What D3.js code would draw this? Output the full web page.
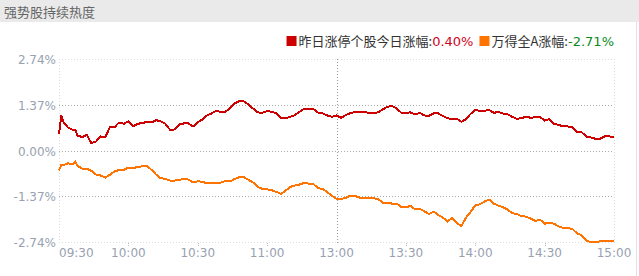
<!DOCTYPE html>
<html>
<head>
<meta charset="utf-8">
<style>
  body { margin: 0; background: #fff; }
  .ylab, .xlab { font: 12px "DejaVu Sans"; fill: #97a1b0; }
  .title { font: 13px "Noto Sans CJK SC"; fill: #666; }
  .lgname { font: 13px "Noto Sans CJK SC"; fill: #333; }
  .lgval { font: 13px "DejaVu Sans"; }
</style>
<script src="https://d3js.org/d3.v7.min.js"></script>
</head>
<body>
<svg width="639" height="276"></svg>
<script>
// time points (11:30 and 13:00 share one position)
var times = ["09:30","09:31","09:32","09:34","09:36","09:37","09:38",
  "09:40","09:42","09:44","09:46","09:48","09:50","09:52","09:54","09:56","09:58",
  "10:00","10:02","10:04","10:06","10:08","10:10","10:12","10:14","10:16","10:18",
  "10:20","10:22","10:24","10:26","10:28","10:30","10:32","10:34","10:36","10:38",
  "10:40","10:42","10:44","10:46","10:48","10:50","10:52","10:54","10:56","10:58",
  "11:00","11:02","11:04","11:06","11:08","11:10","11:12","11:14","11:16","11:18",
  "11:20","11:22","11:24","11:26","11:28",
  "13:00","13:02","13:04","13:06","13:08","13:10","13:12","13:14","13:16","13:18",
  "13:20","13:22","13:24","13:26","13:28","13:30","13:32","13:34","13:36","13:38",
  "13:40","13:42","13:44","13:46","13:48","13:50","13:52","13:54","13:56","13:58",
  "14:00","14:02","14:04","14:06","14:08","14:10","14:12","14:14","14:16","14:18",
  "14:20","14:22","14:24","14:26","14:28","14:30","14:32","14:34","14:36","14:38",
  "14:40","14:42","14:44","14:46","14:48","14:50","14:52","14:54","14:56","14:58",
  "15:00"];

// 昨日涨停个股今日涨幅 (%)
var limitUp = [0.50,1.05,0.85,0.68,0.62,0.62,0.45,
  0.40,0.47,0.22,0.27,0.42,0.40,0.69,0.70,0.84,0.80,
  0.87,0.72,0.80,0.82,0.86,0.84,0.91,0.87,0.80,0.62,
  0.63,0.78,0.81,0.81,0.72,0.85,0.93,1.05,1.11,1.19,
  1.15,1.16,1.27,1.41,1.48,1.47,1.37,1.25,1.14,1.13,
  1.18,1.16,1.11,0.96,0.97,1.01,1.06,1.16,1.25,1.23,
  1.24,1.14,1.11,1.05,1.01,
  1.05,0.98,1.06,1.12,1.15,1.16,1.15,1.13,1.13,1.14,
  1.23,1.31,1.33,1.26,1.13,1.13,1.14,1.08,1.13,1.05,
  1.04,1.11,1.11,1.03,0.97,0.94,0.95,0.86,0.94,1.10,
  1.21,1.19,1.19,1.21,1.13,1.15,1.11,1.08,1.01,0.95,
  0.97,1.01,0.98,1.00,1.00,0.90,0.94,0.80,0.77,0.72,
  0.72,0.69,0.55,0.55,0.42,0.39,0.35,0.35,0.42,0.42,
  0.40];

// 万得全A涨幅 (%)
var windA = [-0.60,-0.43,-0.44,-0.38,-0.42,-0.33,-0.46,
  -0.54,-0.54,-0.61,-0.72,-0.75,-0.81,-0.73,-0.63,-0.58,-0.58,
  -0.51,-0.52,-0.50,-0.47,-0.46,-0.58,-0.72,-0.83,-0.85,-0.90,
  -0.90,-0.89,-0.84,-0.87,-0.96,-0.92,-0.94,-0.98,-0.96,-0.96,
  -0.96,-0.91,-0.93,-0.85,-0.80,-0.80,-0.88,-0.96,-1.09,-1.15,
  -1.16,-1.19,-1.24,-1.30,-1.20,-1.09,-1.05,-1.02,-0.97,-0.99,
  -1.00,-1.13,-1.15,-1.25,-1.35,
  -1.45,-1.45,-1.42,-1.35,-1.36,-1.41,-1.42,-1.41,-1.43,-1.46,
  -1.56,-1.56,-1.59,-1.59,-1.69,-1.70,-1.66,-1.76,-1.75,-1.82,
  -1.90,-1.83,-1.93,-2.01,-2.12,-2.02,-2.17,-2.26,-2.01,-1.84,
  -1.64,-1.61,-1.53,-1.47,-1.59,-1.65,-1.70,-1.77,-1.88,-1.90,
  -1.97,-1.98,-2.04,-2.11,-2.07,-2.19,-2.17,-2.19,-2.27,-2.32,
  -2.32,-2.35,-2.48,-2.54,-2.69,-2.75,-2.75,-2.72,-2.72,-2.70,
  -2.71];

var yTicks = [2.74, 1.37, 0, -1.37, -2.74];
var xTicks = ["09:30","10:00","10:30","11:00","13:00","13:30","14:00","14:30","15:00"];
var seriesNames = ["昨日涨停个股今日涨幅", "万得全A涨幅"];
var seriesColors = ["#cc0000", "#ff7300"];
var lastValues = [0.40, -2.71];
var valueColors = ["#d0021b", "#0a8a1a"];
var title = "强势股持续热度";

var svg = d3.select("svg");

// trading minutes since 09:30, lunch break removed
function tradeMin(t) {
  var p = t.split(":"), m = (+p[0]) * 60 + (+p[1]) - 570;
  return m > 120 ? m - 90 : m;
}

var x = d3.scaleLinear().domain([0, 240]).range([59, 614]);
var y = d3.scaleLinear().domain([-2.74, 2.74]).range([242, 59]);

// header bar
svg.append("rect").attr("x", 0).attr("y", 0).attr("width", 639).attr("height", 22).attr("fill", "#eaeaea");
svg.append("text").attr("class", "title").attr("x", 4).attr("y", 17).text(title);
svg.append("line").attr("x1", 636.5).attr("x2", 636.5).attr("y1", 22).attr("y2", 276)
  .attr("stroke", "#e2e2e2");

// horizontal grid + y labels
yTicks.forEach(function (v) {
  var edge = Math.abs(v) === 2.74;
  svg.append("line")
    .attr("x1", x(0)).attr("x2", x(240))
    .attr("y1", Math.round(y(v)) + 0.5).attr("y2", Math.round(y(v)) + 0.5)
    .attr("stroke", edge ? "#dcdcdc" : "#aaa")
    .attr("stroke-dasharray", "1,2");
  svg.append("text").attr("class", "ylab")
    .attr("x", 56).attr("y", Math.round(y(v)) + 4.5)
    .attr("text-anchor", "end")
    .text(v.toFixed(2) + "%");
});

// vertical grid + x labels
xTicks.forEach(function (t, i) {
  var px = Math.round(x(tradeMin(t))) + 0.5;
  if (t === "09:30" || t === "13:00" || t === "15:00") {
    svg.append("line")
      .attr("x1", px).attr("x2", px).attr("y1", y(2.74)).attr("y2", y(-2.74) + 2)
      .attr("stroke", t === "13:00" ? "#999" : "#dcdcdc")
      .attr("stroke-dasharray", "1,2");
  } else {
    svg.append("line")
      .attr("x1", px).attr("x2", px).attr("y1", y(-2.74) + 1).attr("y2", y(-2.74) + 4)
      .attr("stroke", "#bbb").attr("stroke-dasharray", "1,1");
  }
  svg.append("text").attr("class", "xlab")
    .attr("x", i === 0 ? x(0) : x(tradeMin(t)))
    .attr("y", 257)
    .attr("text-anchor", i === 0 ? "start" : "middle")
    .text(t);
});

// lines
var line = d3.line()
  .x(function (d) { return x(tradeMin(d[0])); })
  .y(function (d) { return y(d[1]); });

[windA, limitUp].forEach(function (vals) {
  var idx = vals === limitUp ? 0 : 1;
  svg.append("path")
    .datum(d3.zip(times, vals))
    .attr("d", line)
    .attr("fill", "none")
    .attr("stroke", seriesColors[idx])
    .attr("stroke-width", 2)
    .attr("shape-rendering", "crispEdges");
});

// legend, right aligned to plot edge
var lg = svg.append("g");
var cx = 0;
seriesNames.forEach(function (name, i) {
  if (i > 0) cx += 6;
  lg.append("rect").attr("x", cx).attr("y", 36).attr("width", 10).attr("height", 10)
    .attr("fill", seriesColors[i]);
  cx += 12;
  var t1 = lg.append("text").attr("class", "lgname").attr("x", cx).attr("y", 46).text(name + ":");
  cx += t1.node().getComputedTextLength();
  var t2 = lg.append("text").attr("class", "lgval").attr("x", cx).attr("y", 46)
    .attr("fill", valueColors[i]).text(lastValues[i].toFixed(2) + "%");
  cx += t2.node().getComputedTextLength();
});
lg.attr("transform", "translate(" + (614 - cx) + ",0)");
</script>
</body>
</html>
